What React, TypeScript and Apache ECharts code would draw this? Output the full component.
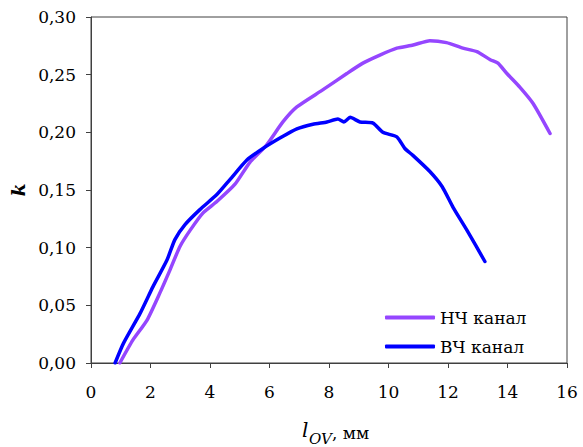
import React, { useEffect, useRef } from "react";
import * as echarts from "echarts";

const lfX = [0.97, 1.41, 1.88, 2.32, 2.66, 2.99, 3.33, 3.76, 4.23, 4.84, 5.34, 5.9, 6.45, 6.92, 7.8, 8.6, 9.14, 9.71, 10.28, 10.83, 11.39, 11.95, 12.5, 12.97, 13.42, 13.68, 13.98, 14.42, 14.86, 15.43];
const lfY = [0, 0.02, 0.037, 0.061, 0.081, 0.101, 0.115, 0.13, 0.14, 0.155, 0.174, 0.189, 0.209, 0.222, 0.237, 0.251, 0.26, 0.267, 0.273, 0.2757, 0.2795, 0.2778, 0.273, 0.27, 0.263, 0.26, 0.251, 0.239, 0.225, 0.199];
const hfX = [0.81, 1.09, 1.65, 2.08, 2.55, 2.82, 3.16, 3.66, 4.23, 4.67, 5.24, 5.78, 6.35, 6.92, 7.46, 7.93, 8.3, 8.5, 8.71, 9.04, 9.48, 9.81, 10.28, 10.55, 10.82, 11.39, 11.8, 12.17, 12.64, 13.24];
const hfY = [0, 0.017, 0.043, 0.066, 0.089, 0.107, 0.12, 0.133, 0.146, 0.159, 0.176, 0.186, 0.195, 0.203, 0.207, 0.209, 0.2115, 0.209, 0.213, 0.209, 0.208, 0.2, 0.196, 0.186, 0.18, 0.166, 0.153, 0.135, 0.115, 0.088];
const seriesNames = ["НЧ канал", "ВЧ канал"];

const FONT = "DejaVu Serif";

export default function App() {
  const ref = useRef<HTMLDivElement>(null);
  useEffect(() => {
    if (!ref.current) return;
    const chart = echarts.init(ref.current, null, { renderer: "svg" });
    const zip = (xs: number[], ys: number[]) => xs.map((x, i) => [x, ys[i]]);
    chart.setOption({
      animation: false,
      backgroundColor: "#fff",
      textStyle: { fontFamily: FONT },
      grid: { left: 91, right: 16, top: 17, bottom: 84, show: true, borderColor: "#404040", borderWidth: 1 },
      legend: {
        orient: "vertical",
        left: 380,
        top: 304,
        itemWidth: 50,
        itemHeight: 4,
        itemGap: 12,
        itemTextGap: 10,
        icon: "roundRect",
        textStyle: { fontFamily: FONT, fontSize: 17, color: "#000", lineHeight: 17 },
        data: seriesNames,
      },
      xAxis: {
        type: "value",
        min: 0,
        max: 16,
        interval: 2,
        splitLine: { show: false },
        axisLine: { lineStyle: { color: "#404040", width: 1 } },
        axisTick: { inside: false, length: 5, lineStyle: { color: "#404040" } },
        axisLabel: { fontFamily: FONT, fontSize: 17, color: "#000", margin: 20 },
      },
      yAxis: {
        type: "value",
        min: 0,
        max: 0.3,
        interval: 0.05,
        splitLine: { show: false },
        axisLine: { show: true, lineStyle: { color: "#404040", width: 1 } },
        axisTick: { show: true, inside: false, length: 5, lineStyle: { color: "#404040" } },
        axisLabel: {
          fontFamily: FONT,
          fontSize: 17,
          color: "#000",
          margin: 15,
          formatter: (v: number) => v.toFixed(2).replace(".", ","),
        },
        name: "k",
        nameLocation: "middle",
        nameGap: 62,
        nameRotate: 90,
        nameTextStyle: { fontFamily: FONT, fontSize: 19, fontWeight: "bold", fontStyle: "italic", color: "#000" },
      },
      graphic: [
        { type: "text", left: 302, top: 420, style: { text: "l", fontFamily: FONT, fontSize: 20, fontStyle: "italic", fill: "#000" } },
        { type: "text", left: 309, top: 431, style: { text: "OV", fontFamily: FONT, fontSize: 15, fontStyle: "italic", fill: "#000" } },
        { type: "text", left: 332, top: 424, style: { text: ", мм", fontFamily: FONT, fontSize: 17, fill: "#000" } },
      ],
      series: [
        {
          name: seriesNames[0],
          type: "line",
          data: zip(lfX, lfY),
          showSymbol: false,
          symbol: "none",
          smooth: 0.2,
          lineStyle: { color: "#9546ff", width: 3.5, cap: "round", join: "round" },
          itemStyle: { color: "#9546ff" },
        },
        {
          name: seriesNames[1],
          type: "line",
          data: zip(hfX, hfY),
          showSymbol: false,
          symbol: "none",
          smooth: 0.2,
          lineStyle: { color: "#0000ff", width: 3.5, cap: "round", join: "round" },
          itemStyle: { color: "#0000ff" },
        },
      ],
    });
    return () => chart.dispose();
  }, []);
  return <div ref={ref} style={{ width: 583, height: 447, position: "absolute", left: 0, top: 0 }} />;
}
